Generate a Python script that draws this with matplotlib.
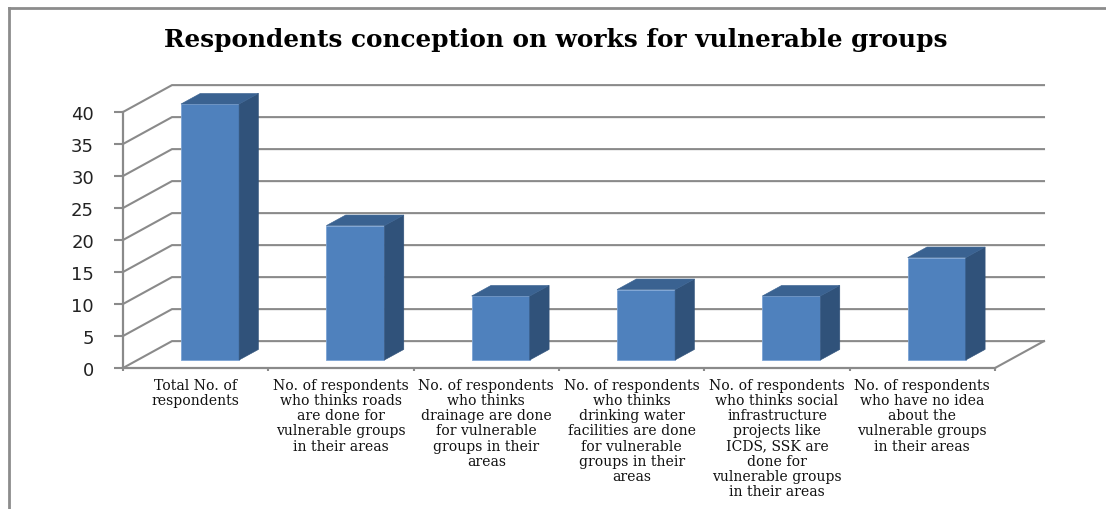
import matplotlib
matplotlib.use('Agg')
import matplotlib.pyplot as plt
from matplotlib.lines import Line2D
from matplotlib.patches import Polygon
import numpy as np

# dane
title = 'Respondents conception on works for vulnerable groups'
categories = [
    'Total No. of\nrespondents',
    'No. of respondents\nwho thinks roads\nare done for\nvulnerable groups\nin their areas',
    'No. of respondents\nwho thinks\ndrainage are done\nfor vulnerable\ngroups in their\nareas',
    'No. of respondents\nwho thinks\ndrinking water\nfacilities are done\nfor vulnerable\ngroups in their\nareas',
    'No. of respondents\nwho thinks social\ninfrastructure\nprojects like\nICDS, SSK are\ndone for\nvulnerable groups\nin their areas',
    'No. of respondents\nwho have no idea\nabout the\nvulnerable groups\nin their areas',
]
values = [40, 21, 10, 11, 10, 16]
y_ticks = [0, 5, 10, 15, 20, 25, 30, 35, 40]

W, H = 1106, 510
GRID = '#8a8a8a'
FRONT = '#4f81bd'
SIDE = '#30527a'
TOP = '#3a6291'

# glebokosc "3D" w jednostkach danych
WALL_DX, WALL_DY = 0.337, 4.2
BAR_DX, BAR_DY = 0.133, 1.65
BAR_SHIFT_X, BAR_SHIFT_Y = 0.099, 1.25
BAR_W = 0.4

fig = plt.figure(figsize=(W / 100, H / 100), dpi=100, facecolor='white')
ax = fig.add_axes([123 / W, 1 - 369 / H, 872 / W, 256 / H])
ax.set_xlim(0, len(values))
ax.set_ylim(0, 40)
ax.patch.set_visible(False)
ax.spines['top'].set_visible(False)
ax.spines['right'].set_visible(False)
for s in ['left', 'bottom']:
    ax.spines[s].set_color(GRID)
    ax.spines[s].set_linewidth(1.6)

n = len(values)

# ramka wykresu (tylko gora i lewa strona)
fig.add_artist(Line2D([9 / W, 9 / W], [0, 1 - 9 / H], color='#8c8c8c', lw=2))
fig.add_artist(Line2D([9 / W, 1], [1 - 9 / H, 1 - 9 / H], color='#8c8c8c', lw=2))

# siatka na scianie tylnej i bocznej
for t in y_ticks:
    ax.plot([0, WALL_DX, n + WALL_DX], [t, t + WALL_DY, t + WALL_DY],
            color=GRID, lw=1.5, clip_on=False, zorder=1, solid_joinstyle='miter')
ax.plot([n, n + WALL_DX], [0, WALL_DY], color=GRID, lw=1.5, clip_on=False, zorder=1)

# slupki
centers = np.arange(n) + 0.5 + BAR_SHIFT_X
ax.bar(centers, values, width=BAR_W, bottom=BAR_SHIFT_Y, color=FRONT,
       edgecolor='#7ba3d4', linewidth=0.6, clip_on=False, zorder=3)
for c, v in zip(centers, values):
    x1 = c + BAR_W / 2
    x0 = c - BAR_W / 2
    y0 = BAR_SHIFT_Y
    y1 = BAR_SHIFT_Y + v
    ax.add_patch(Polygon([(x1, y0), (x1 + BAR_DX, y0 + BAR_DY),
                          (x1 + BAR_DX, y1 + BAR_DY), (x1, y1)],
                         facecolor=SIDE, edgecolor=SIDE, lw=0.4, clip_on=False, zorder=3))
    ax.add_patch(Polygon([(x0, y1), (x1, y1), (x1 + BAR_DX, y1 + BAR_DY),
                          (x0 + BAR_DX, y1 + BAR_DY)],
                         facecolor=TOP, edgecolor=TOP, lw=0.4, clip_on=False, zorder=3))

# osie i opisy
ax.set_yticks(y_ticks)
ax.tick_params(axis='y', length=6.5, width=1.5, color=GRID, pad=14.4, labelsize=13)
for lab in ax.get_yticklabels():
    lab.set_family('DejaVu Sans')
    lab.set_color('#222222')

ax.set_xticks(np.arange(n + 1))
ax.set_xticklabels([])
ax.tick_params(axis='x', which='major', length=2.5, width=1.5, color=GRID)
ax.set_xticks(np.arange(n) + 0.5, minor=True)
ax.set_xticklabels(categories, minor=True, family='DejaVu Serif', fontsize=10.1,
                   linespacing=1.11, color='#111111')
ax.tick_params(axis='x', which='minor', length=0, pad=7)

fig.text(556 / W, 1 - 40 / H, title, family='DejaVu Serif', fontweight='bold',
         fontsize=17.8, ha='center', va='center', color='black')

fig.savefig('out.png', dpi=100)
